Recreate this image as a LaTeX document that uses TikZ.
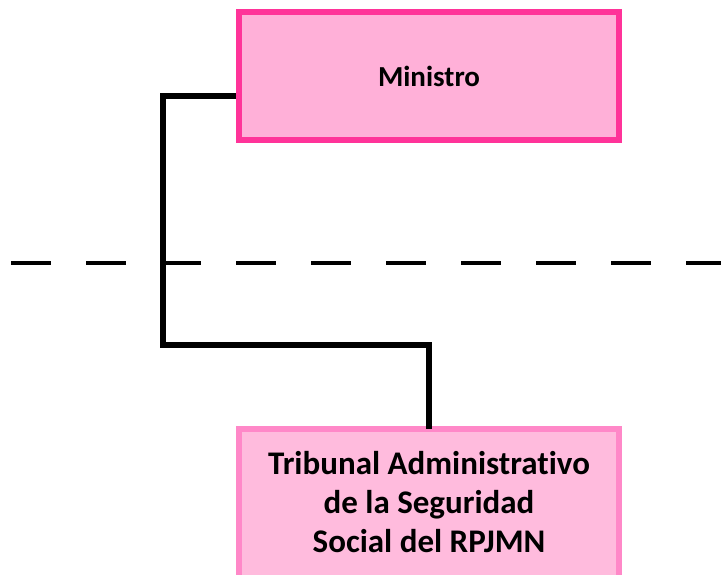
\documentclass[tikz,border=0pt]{standalone}
\usepackage{fontspec}
\setmainfont[Ligatures={NoCommon}]{Carlito}
\definecolor{minborder}{HTML}{FF3399}
\definecolor{minfill}{HTML}{FFB0D8}
\definecolor{tribborder}{HTML}{FF88C8}
\definecolor{tribfill}{HTML}{FFBBDD}
\begin{document}
\begin{tikzpicture}[x=1pt,y=1pt,
  minbox/.style={draw=minborder,fill=minfill,line width=6pt,minimum width=380pt,minimum height=128pt,inner sep=0pt,font=\fontsize{29}{34}\selectfont\bfseries},
  tribbox/.style={draw=tribborder,fill=tribfill,line width=6pt,minimum width=380pt,minimum height=220pt,inner sep=0pt,align=center,font=\fontsize{33}{39}\selectfont\bfseries},
  conn/.style={draw=black,line width=6pt,line join=miter},
  sep/.style={draw=black,line width=4pt,dash pattern=on 40pt off 35pt}]
\useasboundingbox (0,0) rectangle (721,-575);
\clip (0,0) rectangle (721,-575);
\coordinate (dl) at (11,-263);
\coordinate (dr) at (730,-263);
\draw[sep] (dl) -- (dr);
\node[minbox] (min) at (429,-76) {Ministro};
\node[tribbox] (trib) at (429,-539) {Tribunal Administrativo\\de la Seguridad\\Social del RPJMN\\[35pt]\mbox{}};
\coordinate (bend) at (163,-345);
\draw[conn] ([yshift=-20pt]min.west) -| (bend) -| ([yshift=-3pt]trib.north);
\end{tikzpicture}
\end{document}
